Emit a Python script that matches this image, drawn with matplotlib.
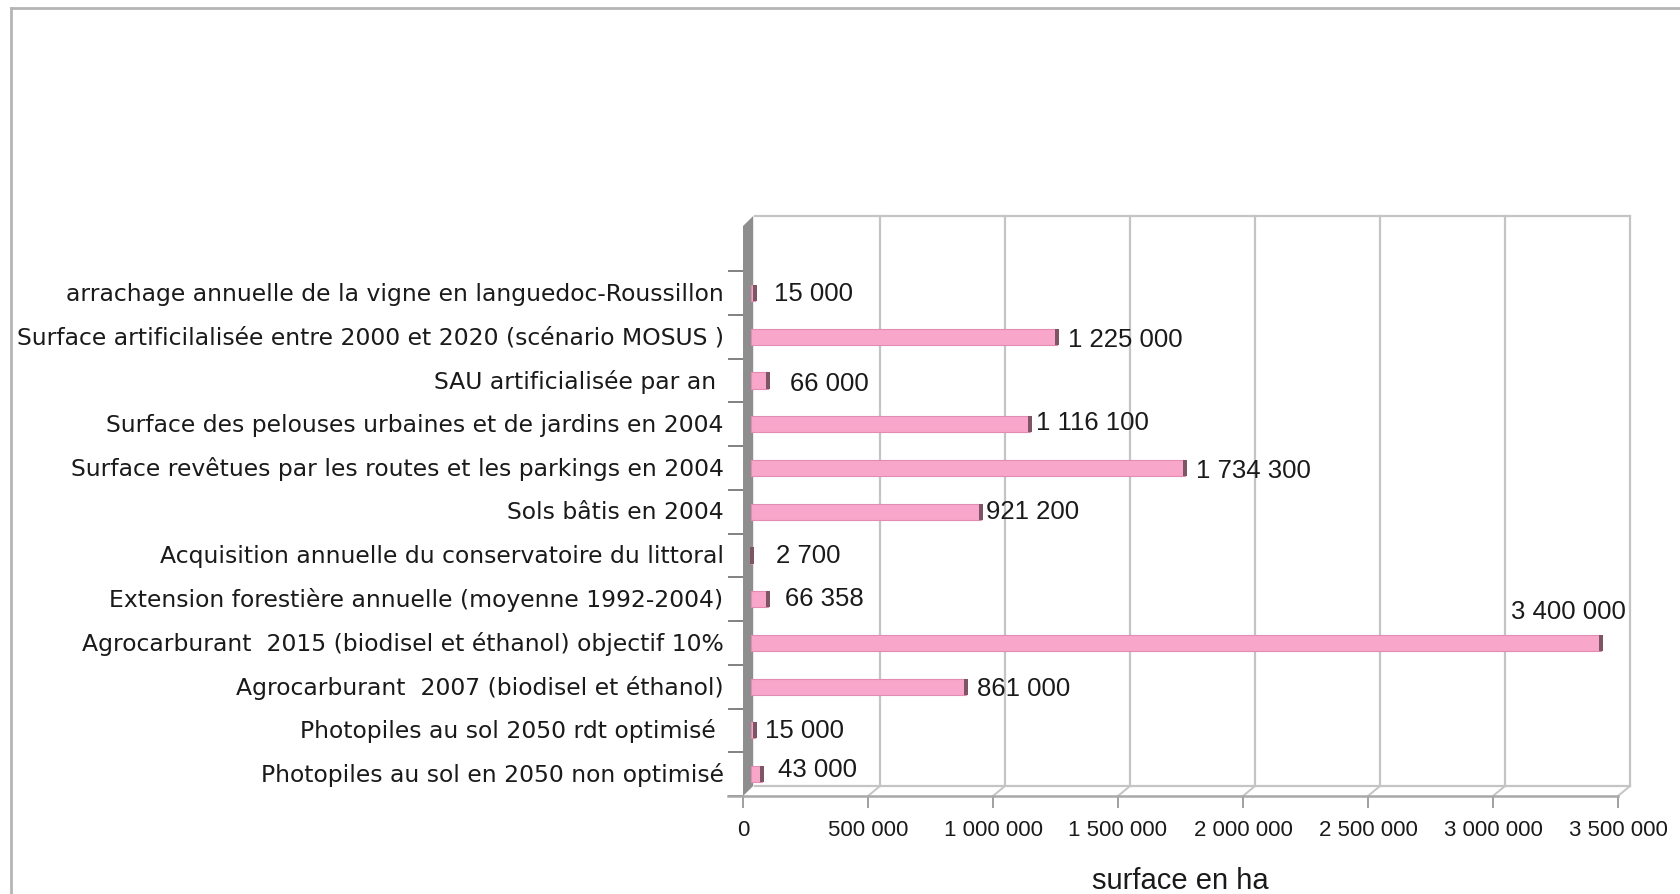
import matplotlib
matplotlib.use("Agg")
import matplotlib.pyplot as plt
from matplotlib.lines import Line2D
from matplotlib.patches import Polygon, Rectangle
from matplotlib.ticker import FuncFormatter
import matplotlib.transforms as mtransforms

plt.rcParams["font.family"] = ["Liberation Sans", "DejaVu Sans"]

# Categories listed top to bottom, with their surface in hectares
categories = [
    "arrachage annuelle de la vigne en languedoc-Roussillon",
    "Surface artificilalisée entre 2000 et 2020 (scénario MOSUS )",
    "SAU artificialisée par an ",
    "Surface des pelouses urbaines et de jardins en 2004",
    "Surface revêtues par les routes et les parkings en 2004",
    "Sols bâtis en 2004",
    "Acquisition annuelle du conservatoire du littoral",
    "Extension forestière annuelle (moyenne 1992-2004)",
    "Agrocarburant  2015 (biodisel et éthanol) objectif 10%",
    "Agrocarburant  2007 (biodisel et éthanol)",
    "Photopiles au sol 2050 rdt optimisé ",
    "Photopiles au sol en 2050 non optimisé",
]
surfaces = [15000, 1225000, 66000, 1116100, 1734300, 921200,
            2700, 66358, 3400000, 861000, 15000, 43000]
x_ticks = [0, 500000, 1000000, 1500000, 2000000, 2500000, 3000000, 3500000]
x_label = "surface en ha"

# label nudges in pixels (dx after the bar end, dy), same order as categories
label_dx = [19, 11, 23, 6, 11, 5, 24, 17, 0, 11, 10, 16]
label_dy = [0, -2, -2, 2, -2, 1, 0, 1, 0, -1, 0, 5]

W, H, DPI = 1680, 895, 100
fig = plt.figure(figsize=(W / DPI, H / DPI), dpi=DPI)
fig.patch.set_facecolor("white")

# plotting plane (front face of the 3-D box), in pixels
x0_px, x1_px = 743, 1618
ybot_px, ytop_px = 797, 227
ax = fig.add_axes([x0_px / W, (H - ybot_px) / H,
                   (x1_px - x0_px) / W, (ybot_px - ytop_px) / H])
ax.set_facecolor("none")

n = len(categories)
rows = list(range(n))[::-1]          # first category on top
xmax = x_ticks[-1]
row_px = 43.73
ymin = -0.5
ymax = ymin + (ybot_px - ytop_px) / row_px
ax.set_xlim(0, xmax)
ax.set_ylim(ymin, ymax)

# depth of the box: 12 px right, 10 px up
dx = 12 * xmax / (x1_px - x0_px)
dy = 10 / row_px

grid_c = "#c4c4c4"
wall_c = "#8e8e8e"

# back wall: vertical grid lines and outline
for t in x_ticks[1:]:
    ax.add_line(Line2D([t + dx, t + dx], [ymin + dy, ymax + dy],
                       color=grid_c, lw=1.6, clip_on=False, zorder=1))
ax.add_line(Line2D([dx, xmax + dx], [ymax + dy, ymax + dy],
                   color=grid_c, lw=1.6, clip_on=False, zorder=1))

# floor: front edge, back edge and the joins at each tick
ax.add_line(Line2D([dx, xmax + dx], [ymin + dy, ymin + dy],
                   color=grid_c, lw=1.6, clip_on=False, zorder=1))
ax.add_line(Line2D([-15 * xmax / (x1_px - x0_px), xmax], [ymin, ymin],
                   color="#a8a8a8", lw=1.8, clip_on=False, zorder=2))
for t in x_ticks[1:]:
    ax.add_line(Line2D([t, t + dx], [ymin, ymin + dy],
                       color=grid_c, lw=1.4, clip_on=False, zorder=1))

# left side wall seen edge-on
ax.add_patch(Polygon([[0, ymin], [0, ymax], [dx * 0.85, ymax + dy],
                      [dx * 0.85, ymin + dy]], closed=True,
                     facecolor=wall_c, edgecolor="none",
                     clip_on=False, zorder=2))

# bars, shifted to the middle of the box depth
bar_shift = mtransforms.offset_copy(ax.transData, fig=fig, x=8, y=0,
                                    units="dots")
bar_h = 0.37
cap_w = 4 * xmax / (x1_px - x0_px)
for r, v in zip(rows, surfaces):
    ax.add_patch(Rectangle((0, r - bar_h / 2), v, bar_h,
                           facecolor="#f8a6ca", edgecolor="#e38cb3",
                           lw=0.8, transform=bar_shift, clip_on=False,
                           zorder=3))
    ax.add_patch(Rectangle((v - cap_w / 2, r - bar_h / 2), cap_w, bar_h,
                           facecolor="#7d5565", edgecolor="none",
                           transform=bar_shift, clip_on=False, zorder=4))

# value labels
for r, v, ddx, ddy in zip(rows, surfaces, label_dx, label_dy):
    txt = f"{v:,}".replace(",", " ")
    if v == max(surfaces):
        ax.annotate(txt, (v, r), xytext=(8 + 25, 32),
                    textcoords="offset pixels", ha="right", va="center",
                    fontsize=18.5, color="#1a1a1a", zorder=5)
    else:
        ax.annotate(txt, (v, r), xytext=(8 + ddx, ddy),
                    textcoords="offset pixels", ha="left", va="center",
                    fontsize=18.5, color="#1a1a1a", zorder=5)

# axes ticks and labels
ax.set_yticks(rows)
ax.set_yticklabels(categories, fontsize=16.9, color="#1a1a1a",
                   family=["DejaVu Sans"])
for lbl in ax.get_yticklabels():
    lbl.set_verticalalignment("center")
ax.set_yticks([k - 0.5 for k in range(n + 1)], minor=True)
ax.tick_params(axis="y", which="major", length=0, pad=14)
ax.tick_params(axis="y", which="minor", length=11, width=1.3,
               color="#777777")
ax.set_xticks(x_ticks)
ax.xaxis.set_major_formatter(FuncFormatter(
    lambda val, pos: f"{int(val):,}".replace(",", " ")))
ax.tick_params(axis="x", which="major", length=8.5, width=1.3,
               color="#999999", labelsize=16, labelcolor="#1a1a1a", pad=8)
ax.set_xlabel(x_label, fontsize=21, color="#1a1a1a", labelpad=19)
for s in ax.spines.values():
    s.set_visible(False)

# chart frame
fig.add_artist(Line2D([11 / W, 1], [1 - 9 / H, 1 - 9 / H],
                      transform=fig.transFigure, color="#b5b5b5", lw=2))
fig.add_artist(Line2D([11 / W, 11 / W], [0, 1 - 9 / H],
                      transform=fig.transFigure, color="#b5b5b5", lw=2))

fig.savefig("out.png", dpi=DPI, facecolor="white")
